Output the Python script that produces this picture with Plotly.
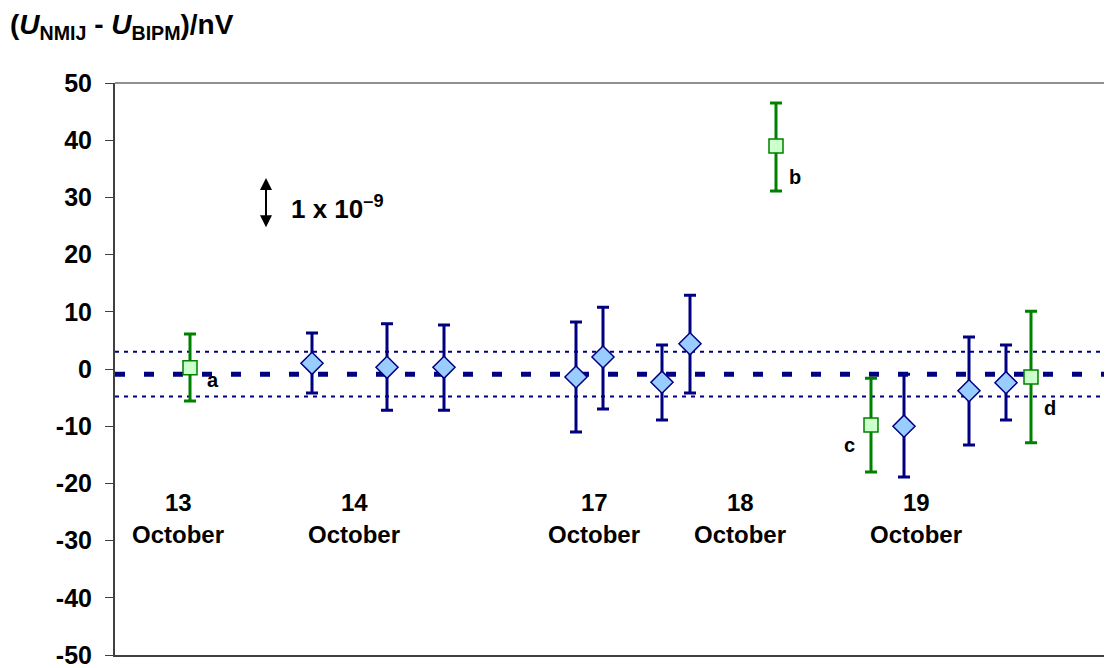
import plotly.graph_objects as go

# --- data ---
nmij_x = [19.7, 27.2, 32.9, 46.1, 48.8, 54.7, 57.5, 78.9, 85.4, 89.1]
nmij_y = [1.0, 0.3, 0.3, -1.4, 2.1, -2.3, 4.4, -10.0, -3.8, -2.4]
nmij_hi = [6.3, 7.9, 7.7, 8.2, 10.8, 4.2, 12.9, -0.9, 5.6, 4.2]
nmij_lo = [-4.2, -7.2, -7.2, -11.0, -7.0, -8.9, -4.2, -18.9, -13.3, -8.9]

spec_x = [7.5, 66.1, 75.6, 91.6]
spec_y = [0.2, 39.0, -9.8, -1.4]
spec_hi = [6.1, 46.5, -1.6, 10.1]
spec_lo = [-5.6, 31.1, -18.0, -12.9]
spec_labels = ["a", "b", "c", "d"]
spec_label_x = [9.8, 68.0, 73.4, 93.5]
spec_label_y = [-1.9, 33.6, -13.3, -6.8]

mean_value = -0.9
band_hi = 3.0
band_lo = -4.8

day_labels = ["13", "14", "17", "18", "19"]
day_x = [6.3, 23.9, 47.9, 62.5, 80.1]

y_ticks = [50, 40, 30, 20, 10, 0, -10, -20, -30, -40, -50]

x_range = [0, 99.7]
y_range = [-50, 50]

NAVY = "#000080"
GREEN = "#008000"
FONT = "Liberation Sans, Arial, sans-serif"

fig = go.Figure()

# reference lines
for yv, w, d in [(band_hi, 2, "4px,5px"), (band_lo, 2, "4px,5px"), (mean_value, 5, "10px,19px")]:
    fig.add_trace(go.Scatter(x=x_range, y=[yv, yv], mode="lines",
                             line=dict(color=NAVY, width=w, dash=d),
                             hoverinfo="skip", showlegend=False))

fig.add_trace(go.Scatter(
    x=nmij_x, y=nmij_y, mode="markers",
    marker=dict(symbol="diamond", size=17, color="#99CCFF", line=dict(color=NAVY, width=1.5)),
    error_y=dict(type="data", symmetric=False,
                 array=[h - y for h, y in zip(nmij_hi, nmij_y)],
                 arrayminus=[y - l for l, y in zip(nmij_lo, nmij_y)],
                 color=NAVY, thickness=3, width=6),
    showlegend=False))

fig.add_trace(go.Scatter(
    x=spec_x, y=spec_y, mode="markers",
    marker=dict(symbol="square", size=14, color="#CCFFCC", line=dict(color=GREEN, width=1.5)),
    error_y=dict(type="data", symmetric=False,
                 array=[h - y for h, y in zip(spec_hi, spec_y)],
                 arrayminus=[y - l for l, y in zip(spec_lo, spec_y)],
                 color=GREEN, thickness=3, width=6),
    showlegend=False))

annotations = []
for lx, ly, t in zip(spec_label_x, spec_label_y, spec_labels):
    annotations.append(dict(x=lx, y=ly, text=f"<b>{t}</b>", showarrow=False,
                            font=dict(size=20, color="black", family=FONT)))
for dx, dl in zip(day_x, day_labels):
    annotations.append(dict(x=dx, y=-23.4, text=f"<b>{dl}</b>", showarrow=False,
                            font=dict(size=24, color="black", family=FONT)))
    annotations.append(dict(x=dx, y=-29.0, text="<b>October</b>", showarrow=False,
                            font=dict(size=24, color="black", family=FONT)))

# scale arrow
annotations.append(dict(x=15.1, y=33.4, ax=15.1, ay=24.5, axref="x", ayref="y",
                        xref="x", yref="y", text="", showarrow=True,
                        arrowhead=2, arrowside="end+start", arrowsize=1.2,
                        arrowwidth=2, arrowcolor="black"))
annotations.append(dict(x=17.4, y=28.3, xanchor="left", text="<b>1 x 10<sup>–9</sup></b>",
                        showarrow=False, font=dict(size=26, color="black", family=FONT)))

# title
annotations.append(dict(xref="paper", yref="paper", x=-107 / 997, y=1 + 56 / 572,
                        xanchor="left", yanchor="middle",
                        text="<b>(<i>U</i><sub>NMIJ</sub> - <i>U</i><sub>BIPM</sub>)/nV</b>",
                        showarrow=False, font=dict(size=28, color="black", family=FONT)))

fig.update_layout(
    width=1104, height=660,
    margin=dict(l=107, r=0, t=75, b=13),
    paper_bgcolor="white", plot_bgcolor="white",
    annotations=annotations,
    shapes=[dict(type="line", xref="paper", yref="paper", x0=0, x1=1, y0=1, y1=1,
                 line=dict(color="#909090", width=2))],
    xaxis=dict(range=x_range, showgrid=False, zeroline=False, showticklabels=False,
               showline=True, linecolor="#404040", linewidth=2, ticks=""),
    yaxis=dict(range=y_range, showgrid=False, zeroline=False,
               tickmode="array", tickvals=y_ticks,
               ticktext=[f"<b>{v}</b>" for v in y_ticks],
               showline=True, linecolor="#404040", linewidth=2,
               ticks="outside", ticklen=8, tickcolor="#404040", tickwidth=1,
               tickfont=dict(size=25, color="black", family=FONT),
               ticklabelstandoff=8, ticklabeloverflow="allow"),
    font=dict(family=FONT),
)

fig.write_html("out.html")
